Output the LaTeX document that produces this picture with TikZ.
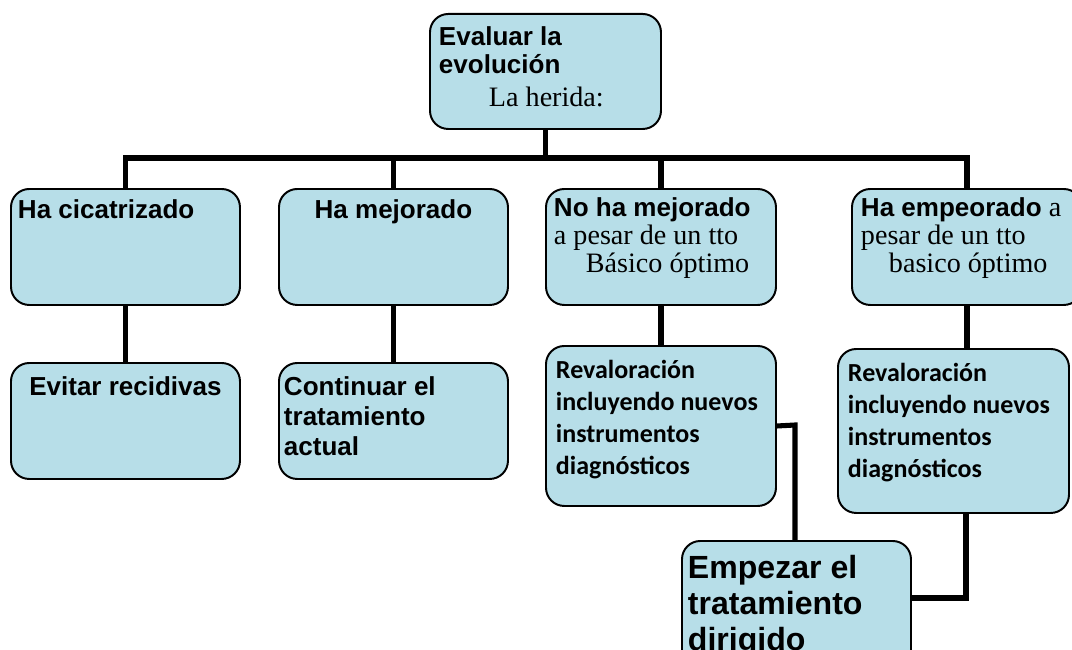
\documentclass[tikz,border=0pt]{standalone}
\usepackage{fontspec}
\setmainfont{Liberation Serif}
\setsansfont{Liberation Sans}
\newfontfamily\calibri{Carlito}

\definecolor{cajafill}{HTML}{B7DEE8}
\newdimen\pxu \pxu=0.025cm
\newcommand{\arial}{\sffamily\bfseries\fontsize{18.5}{19.9}\selectfont}
\newcommand{\serif}{\rmfamily\mdseries\fontsize{20}{19.9}\selectfont}
\newcommand{\revfont}{\calibri\bfseries\fontsize{18.5}{22.8}\selectfont}
% width, height, top pad, left pad, text
\newcommand{\contenido}[5]{\parbox[c][#2\pxu][t]{#1\pxu}{\vspace*{#3\pxu}\raggedright\leftskip=#4\pxu\relax #5\par}}

\begin{document}
\begin{tikzpicture}[x=0.025cm, y=-0.025cm,
  caja/.style={draw, fill=cajafill, line width=1.4pt, rounded corners=13pt, inner sep=0pt, anchor=north west},
  linea/.style={line width=3.6pt, line join=miter}]
  \useasboundingbox (0,0) rectangle (1072,650);

  \node[caja] (eval) at (429,13) {\contenido{231}{115}{13}{9}{\arial Evaluar la\\ evolución\\[5\pxu] {\serif\hspace*{50\pxu}La herida:}}};

  \node[caja] (cicat) at (10,188) {\contenido{229}{116}{11}{7}{\arial Ha cicatrizado}};
  \node[caja] (mejor) at (278,188) {\contenido{229}{116}{11}{0}{\centering\arial Ha mejorado}};
  \node[caja] (nomejor) at (545,188) {\contenido{230}{116}{9}{8}{\arial No ha mejorado\\ \serif a pesar de un tto\\ \hspace*{32\pxu}Básico óptimo}};
  \node[caja] (empeor) at (851,188) {\contenido{230}{116}{9}{9}{\arial Ha empeorado {\serif a}\\ \serif pesar de un tto\\ \hspace*{28\pxu}basico óptimo}};

  \node[caja] (evitar) at (10,362) {\contenido{229}{116}{14}{0}{\centering\arial Evitar recidivas}};
  \node[caja] (continuar) at (278,362) {\contenido{229}{116}{14}{5}{\arial\fontsize{18.5}{21.3}\selectfont Continuar el\\ tratamiento\\ actual}};
  \node[caja] (reval1) at (545,345) {\contenido{230}{160}{14}{10}{\revfont Revaloración\\ incluyendo nuevos\\ instrumentos\\ diagnósticos}};
  \node[caja] (reval2) at (837,348) {\contenido{231}{164}{14}{10}{\revfont Revaloración\\ incluyendo nuevos\\ instrumentos\\ diagnósticos}};

  \node[caja] (empezar) at (681,540) {\contenido{229}{140}{14}{6}{\sffamily\bfseries\fontsize{22.8}{25.6}\selectfont Empezar el\\ tratamiento\\ dirigido}};

  % tree connectors
  \coordinate (bus) at (545,158);
  \draw[linea] (eval.south) -- (eval.south |- bus);
  \draw[linea] (cicat.north) -- (cicat.north |- bus) -- (empeor.north |- bus) -- (empeor.north);
  \draw[linea] (mejor.north) -- (mejor.north |- bus);
  \draw[linea] (nomejor.north) -- (nomejor.north |- bus);

  \draw[linea] (cicat.south) -- (evitar.north);
  \draw[linea] (mejor.south) -- (continuar.north);
  \draw[linea] (nomejor.south) -- (reval1.north);
  \draw[linea] (empeor.south) -- (empeor.south |- reval2.north);

  \coordinate (codo1) at (795,425);
  \draw[linea] (reval1.east) -- (codo1) -- (codo1 |- empezar.north);
  \coordinate (codo2) at (966,598);
  \draw[linea] (codo2 |- reval2.south) -- (codo2) -- (codo2 -| empezar.east);
\end{tikzpicture}
\end{document}
